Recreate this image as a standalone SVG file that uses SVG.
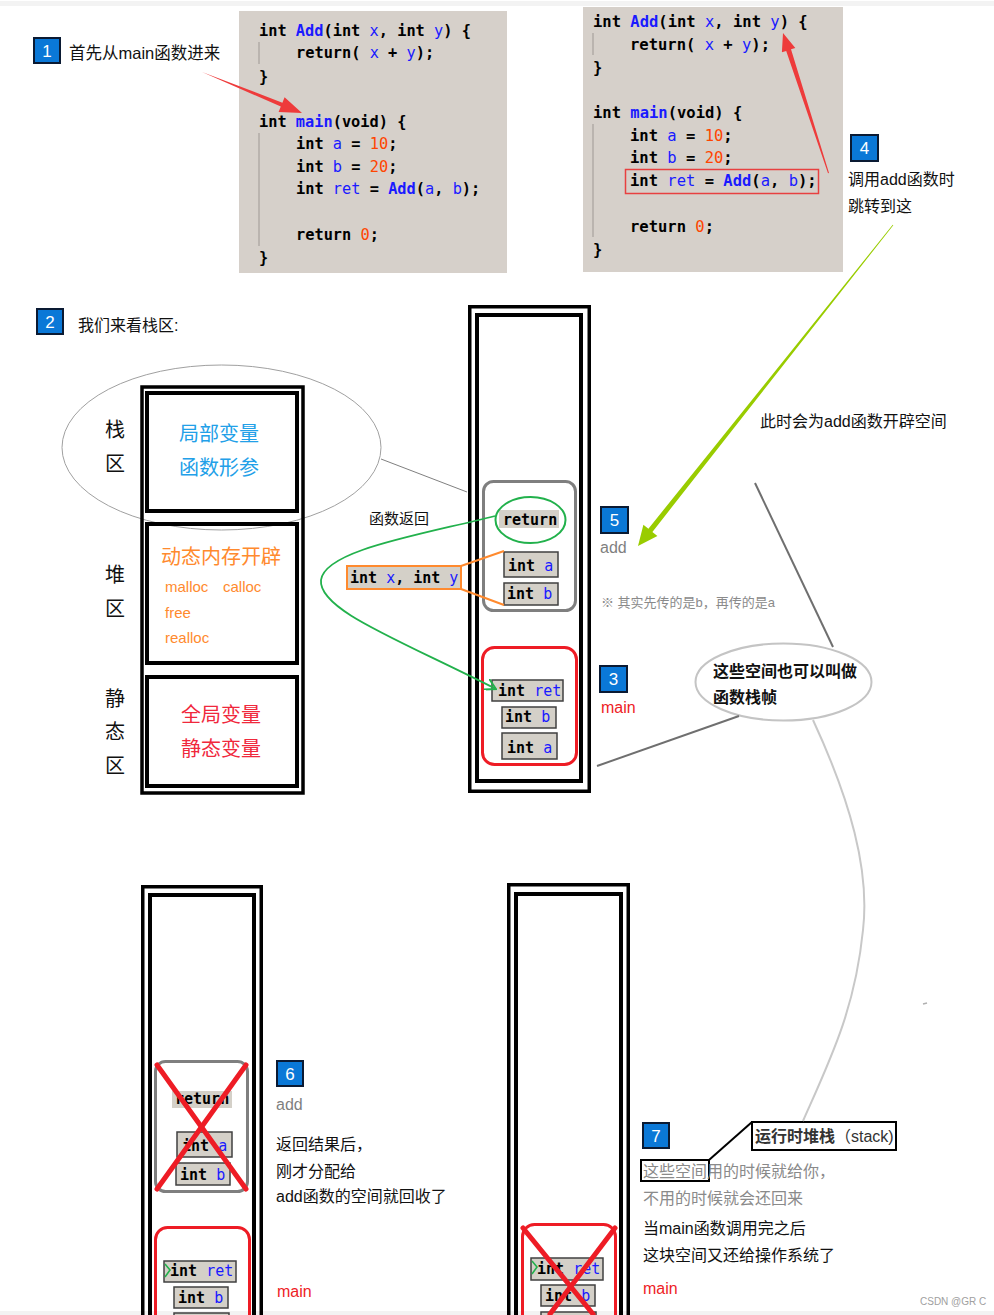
<svg xmlns="http://www.w3.org/2000/svg" width="994" height="1315" viewBox="0 0 994 1315" xml:space="preserve">
<style>
.code{font-family:"DejaVu Sans Mono","Liberation Mono",monospace;font-size:15.3px;font-weight:bold;fill:#000}
.c2{font-size:15.5px}
.sm{font-size:15px}
.id{fill:#1a1aff;font-weight:normal}
.fn{fill:#1a1aff}
.num{fill:#ff4500;font-weight:normal}
.cn{font-family:"Liberation Sans","Noto Sans CJK SC",sans-serif;font-size:16px;fill:#111}
.num-box{fill:#0a78d7;stroke:#0a1a33;stroke-width:2}
.num-txt{font-family:"Liberation Sans",sans-serif;font-size:17px;fill:#fff;text-anchor:middle}
.codebg{fill:#d6d0ca}
.guide{stroke:#b0aba6;stroke-width:1.5}
.cell{fill:#d4d0c8;stroke:#404040;stroke-width:1.5}
.outer{fill:none;stroke:#000;stroke-width:3.5}
.inner{fill:none;stroke:#000;stroke-width:4}
.frame-add{fill:none;stroke:#7f7f7f;stroke-width:3}
.frame-main{fill:none;stroke:#ee1c25;stroke-width:3}
.xline{stroke:#ee1c25;stroke-width:5;stroke-linecap:round}
.gray{fill:#7f7f7f}
.red{fill:#ee1c25}
</style>
<defs>
<marker id="gv" viewBox="0 0 10 10" refX="9" refY="5" markerWidth="12" markerHeight="12" orient="auto" markerUnits="userSpaceOnUse"><path d="M0,0 L9,5 L0,10" fill="none" stroke="#22b14c" stroke-width="1.6"/></marker>
</defs>
<rect x="0" y="0" width="994" height="1315" fill="#fff"/>
<rect x="0" y="1" width="994" height="5" fill="#f3f3f3"/>
<rect x="0" y="1311" width="994" height="4" fill="#f3f3f3"/>

<g id="step1">
<rect class="num-box" x="34" y="38" width="26" height="25"/>
<text class="num-txt" x="47" y="57">1</text>
<text class="cn" x="69" y="59" style="font-size:16.5px">首先从main函数进来</text>
</g>

<g id="code1">
<rect class="codebg" x="239" y="11" width="268" height="262"/>
<line class="guide" x1="259" y1="42" x2="259" y2="64"/>
<line class="guide" x1="259" y1="133" x2="259" y2="246"/>
<text class="code" x="259" y="36">int <tspan class="fn">Add</tspan>(int <tspan class="id">x</tspan>, int <tspan class="id">y</tspan>) {</text>
<text class="code" x="296" y="58">return( <tspan class="id">x</tspan> + <tspan class="id">y</tspan>);</text>
<text class="code" x="259" y="82">}</text>
<text class="code" x="259" y="127">int <tspan class="fn">main</tspan>(void) {</text>
<text class="code" x="296" y="149">int <tspan class="id">a</tspan> = <tspan class="num">10</tspan>;</text>
<text class="code" x="296" y="172">int <tspan class="id">b</tspan> = <tspan class="num">20</tspan>;</text>
<text class="code" x="296" y="194">int <tspan class="id">ret</tspan> = <tspan class="fn">Add</tspan>(<tspan class="id">a</tspan>, <tspan class="id">b</tspan>);</text>
<text class="code" x="296" y="240">return <tspan class="num">0</tspan>;</text>
<text class="code" x="259" y="263">}</text>
</g>

<g id="code2">
<rect class="codebg" x="583" y="7" width="260" height="265"/>
<line class="guide" x1="593" y1="33" x2="593" y2="55"/>
<line class="guide" x1="593" y1="124" x2="593" y2="237"/>
<text class="code c2" x="593" y="27">int <tspan class="fn">Add</tspan>(int <tspan class="id">x</tspan>, int <tspan class="id">y</tspan>) {</text>
<text class="code c2" x="630" y="50">return( <tspan class="id">x</tspan> + <tspan class="id">y</tspan>);</text>
<text class="code c2" x="593" y="73">}</text>
<text class="code c2" x="593" y="118">int <tspan class="fn">main</tspan>(void) {</text>
<text class="code c2" x="630" y="141">int <tspan class="id">a</tspan> = <tspan class="num">10</tspan>;</text>
<text class="code c2" x="630" y="163">int <tspan class="id">b</tspan> = <tspan class="num">20</tspan>;</text>
<rect x="625.5" y="169.5" width="193" height="24" fill="none" stroke="#e84040" stroke-width="1.5"/>
<text class="code c2" x="630" y="186">int <tspan class="id">ret</tspan> = <tspan class="fn">Add</tspan>(<tspan class="id">a</tspan>, <tspan class="id">b</tspan>);</text>
<text class="code c2" x="630" y="232">return <tspan class="num">0</tspan>;</text>
<text class="code c2" x="593" y="255">}</text>
</g>

<g id="step4">
<rect class="num-box" x="851" y="135" width="27" height="26"/>
<text class="num-txt" x="864.5" y="154">4</text>
<text class="cn" x="848" y="185">调用add函数时</text>
<text class="cn" x="848" y="212">跳转到这</text>
</g>

<g id="note-open">
<text class="cn" x="760" y="427">此时会为add函数开辟空间</text>
</g>

<g id="step2">
<rect class="num-box" x="37" y="309" width="26" height="25"/>
<text class="num-txt" x="50" y="328">2</text>
<text class="cn" x="78" y="331">我们来看栈区:</text>
</g>

<g id="memory-layout">
<ellipse cx="221.5" cy="447.5" rx="159.5" ry="82.5" fill="none" stroke="#a0a0a0" stroke-width="1"/>
<rect class="outer" x="142" y="387" width="161" height="406"/>
<rect class="inner" x="147" y="393" width="150" height="118"/>
<rect class="inner" x="147" y="524" width="150" height="139"/>
<rect class="inner" x="147" y="677" width="150" height="109"/>
<g class="cn" style="font-size:20px;text-anchor:middle">
<text x="115" y="437">栈</text>
<text x="115" y="471">区</text>
<text x="115" y="582">堆</text>
<text x="115" y="616">区</text>
<text x="115" y="706">静</text>
<text x="115" y="739">态</text>
<text x="115" y="773">区</text>
<text x="219" y="441" style="fill:#22a0e8">局部变量</text>
<text x="219" y="475" style="fill:#22a0e8">函数形参</text>
<text x="221" y="564" style="fill:#ff8a2e">动态内存开辟</text>
<text x="221" y="722" style="fill:#f0283c">全局变量</text>
<text x="221" y="756" style="fill:#f0283c">静态变量</text>
</g>
<g class="cn" style="font-size:15px;fill:#ff8a2e">
<text x="165" y="592">malloc</text>
<text x="223" y="592">calloc</text>
<text x="165" y="618">free</text>
<text x="165" y="643">realloc</text>
</g>
</g>

<g id="stack-call">
<rect class="outer" x="469.75" y="306.75" width="119.5" height="484.5"/>
<rect class="inner" x="477" y="315" width="104" height="466"/>
<rect class="frame-add" x="483.5" y="481.5" width="92" height="129" rx="10"/>
<rect x="499" y="510" width="60" height="18" fill="#d4d0c8"/>
<text class="code sm" x="503" y="525">return</text>
<ellipse cx="530.5" cy="520" rx="35" ry="23" fill="none" stroke="#22b14c" stroke-width="2"/>
<rect class="cell" x="504" y="552" width="54" height="25"/>
<text class="code sm" x="508" y="571">int <tspan class="id">a</tspan></text>
<rect class="cell" x="504" y="583" width="54" height="22"/>
<text class="code sm" x="507" y="599">int <tspan class="id">b</tspan></text>
<rect class="frame-main" x="482.5" y="647.5" width="94" height="117" rx="12"/>
<rect class="cell" x="492" y="680" width="71" height="21"/>
<text class="code sm" x="498" y="696">int <tspan class="id">ret</tspan></text>
<rect class="cell" x="502" y="707" width="54" height="21"/>
<text class="code sm" x="505" y="722">int <tspan class="id">b</tspan></text>
<rect class="cell" x="502" y="733" width="55" height="26"/>
<text class="code sm" x="507" y="753">int <tspan class="id">a</tspan></text>
</g>

<g id="params">
<line x1="461" y1="566" x2="504" y2="551" stroke="#ff8a2e" stroke-width="2"/>
<line x1="461" y1="589" x2="504" y2="605" stroke="#ff8a2e" stroke-width="2"/>
<rect x="347" y="566" width="114" height="23" fill="#d4d0c8" stroke="#ff8a2e" stroke-width="2"/>
<text class="code sm" x="350" y="583">int <tspan class="id">x</tspan>, int <tspan class="id">y</tspan></text>
</g>

<g id="label-return">
<text class="cn" x="369" y="524" style="font-size:15px">函数返回</text>
</g>

<g id="step5">
<rect class="num-box" x="601" y="507" width="27" height="26"/>
<text class="num-txt" x="614.5" y="526">5</text>
<text class="cn gray" x="600" y="553">add</text>
<text class="cn" x="601" y="607" style="font-size:13px;fill:#8a8a8a">※ 其实先传的是b，再传的是a</text>
</g>

<g id="step3">
<rect class="num-box" x="600" y="666" width="27" height="26"/>
<text class="num-txt" x="613.5" y="685">3</text>
<text class="cn red" x="601" y="713">main</text>
</g>

<g id="bubble">
<ellipse cx="783.5" cy="682" rx="88" ry="38.5" fill="#fff" stroke="#c4c4c4" stroke-width="2"/>
<text class="cn" x="713" y="677" style="font-weight:bold">这些空间也可以叫做</text>
<text class="cn" x="713" y="703" style="font-weight:bold">函数栈帧</text>
</g>

<g id="stack-after-add">
<rect class="outer" x="142.75" y="886.75" width="118.5" height="440"/>
<rect class="inner" x="150" y="895" width="104" height="440"/>
<rect class="frame-add" x="155.5" y="1061.5" width="92" height="130" rx="10"/>
<rect x="172" y="1091" width="60" height="17" fill="#d4d0c8"/>
<text class="code sm" x="175" y="1104">return</text>
<rect class="cell" x="177" y="1132" width="55" height="25"/>
<text class="code sm" x="182" y="1151">int <tspan class="id">a</tspan></text>
<rect class="cell" x="176" y="1163" width="54" height="22"/>
<text class="code sm" x="180" y="1180">int <tspan class="id">b</tspan></text>
<line class="xline" x1="157" y1="1065" x2="246" y2="1189"/>
<line class="xline" x1="246" y1="1065" x2="157" y2="1189"/>
<rect class="frame-main" x="155.5" y="1227.5" width="94" height="120" rx="12"/>
<rect class="cell" x="164" y="1261" width="72" height="21"/>
<text class="code sm" x="170" y="1276">int <tspan class="id">ret</tspan></text>
<path d="M165,1264 L170,1270 L165,1277" fill="none" stroke="#22b14c" stroke-width="1.6"/>
<rect class="cell" x="174" y="1287" width="54" height="21"/>
<text class="code sm" x="178" y="1303">int <tspan class="id">b</tspan></text>
<rect class="cell" x="174" y="1313" width="55" height="20"/>
</g>

<g id="step6">
<rect class="num-box" x="277" y="1061" width="26" height="25"/>
<text class="num-txt" x="290" y="1080">6</text>
<text class="cn gray" x="276" y="1110">add</text>
<text class="cn" x="276" y="1150">返回结果后，</text>
<text class="cn" x="276" y="1177">刚才分配给</text>
<text class="cn" x="276" y="1202">add函数的空间就回收了</text>
<text class="cn red" x="277" y="1297">main</text>
</g>

<g id="stack-after-main">
<rect class="outer" x="508.75" y="884.75" width="119.5" height="440"/>
<rect class="inner" x="516" y="894" width="105" height="440"/>
<rect class="frame-main" x="522.5" y="1224.5" width="93" height="120" rx="12"/>
<rect class="cell" x="531" y="1258" width="72" height="22"/>
<text class="code sm" x="537" y="1274">int <tspan class="id">ret</tspan></text>
<path d="M532,1261 L537,1267 L532,1274" fill="none" stroke="#22b14c" stroke-width="1.6"/>
<rect class="cell" x="541" y="1285" width="54" height="21"/>
<text class="code sm" x="545" y="1301">int <tspan class="id">b</tspan></text>
<rect class="cell" x="541" y="1312" width="55" height="20"/>
<line class="xline" x1="523" y1="1228" x2="593" y2="1314"/>
<line class="xline" x1="615" y1="1228" x2="550" y2="1314"/>
</g>

<g id="step7">
<rect class="num-box" x="643" y="1123" width="26" height="25"/>
<text class="num-txt" x="656" y="1142">7</text>
<rect x="752" y="1122" width="144" height="28" fill="#fff" stroke="#000" stroke-width="2"/>
<text class="cn" x="755" y="1142" style="font-size:16px;fill:#333"><tspan style="font-weight:bold">运行时堆栈</tspan>（stack)</text>
<rect x="641" y="1160" width="68" height="21" fill="none" stroke="#000" stroke-width="2"/>
<text class="cn" x="643" y="1177" style="fill:#8a8a8a">这些空间用的时候就给你，</text>
<text class="cn" x="643" y="1204" style="fill:#8a8a8a">不用的时候就会还回来</text>
<text class="cn" x="643" y="1234">当main函数调用完之后</text>
<text class="cn" x="643" y="1261">这块空间又还给操作系统了</text>
<text class="cn red" x="643" y="1294">main</text>
</g>

<g id="connectors">
<polygon points="202,72 282.4,102.7 284.6,97.2 302,113 278.6,112 280.8,106.5" fill="#ee3b3b"/>
<polygon points="829,173 791,49.3 795.3,47.9 783,33 781.9,52.3 786.2,50.9 828,173.3" fill="#ee3b3b"/>
<polygon points="893.3,225.2 652.4,531.9 657.4,535.9 638,546 643.4,524.7 648.4,528.7 892.7,224.8" fill="#99cc00"/>
<line x1="381" y1="459" x2="467" y2="492" stroke="#808080" stroke-width="1"/>
<path d="M495,516 C420,535 325,550 321,580 C318,610 400,640 496,689" fill="none" stroke="#22b14c" stroke-width="1.8" marker-end="url(#gv)"/>
<line x1="755" y1="483" x2="833" y2="647" stroke="#6f6f6f" stroke-width="2"/>
<line x1="739" y1="716" x2="597" y2="766" stroke="#6f6f6f" stroke-width="2"/>
<path d="M813,720 C850,800 870,870 863,930 C855,1010 830,1060 803,1121" fill="none" stroke="#c8c8c8" stroke-width="2"/>
<line x1="923" y1="1004" x2="927" y2="1003" stroke="#b0b0b0" stroke-width="1.5"/>
<line x1="709" y1="1160" x2="752" y2="1122" stroke="#000" stroke-width="2"/>
</g>

<g id="watermark">
<text x="920" y="1305" style="font-family:'Liberation Sans',sans-serif;font-size:10px;fill:#a0a0a0">CSDN @GR C</text>
</g>
</svg>
